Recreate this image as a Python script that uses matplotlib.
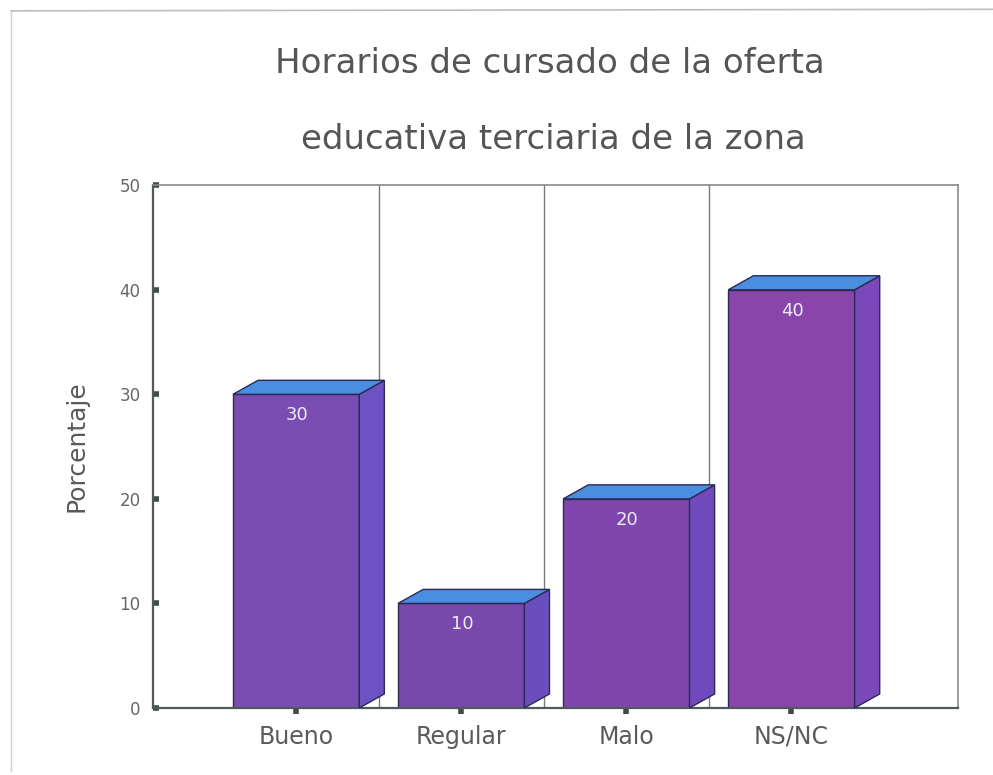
import numpy as np
import matplotlib.pyplot as plt
from matplotlib.patches import Polygon
from matplotlib.lines import Line2D

categorias = ['Bueno', 'Regular', 'Malo', 'NS/NC']
porcentajes = [30, 10, 20, 40]
yticks = [0, 10, 20, 30, 40, 50]

frente = ['#7a4db2', '#7849ad', '#7f47ad', '#8945ab']
lateral = ['#6c52c2', '#6a4ebe', '#704abd', '#7a48b9']
techo = '#4a8ee0'
borde = '#2b2a55'

ancho = 0.765
dx, dy = 0.152, 1.34


def dibujar(ax):
    x = np.arange(len(categorias))
    for b in [0.5, 1.5, 2.5]:
        ax.axvline(b, color='#7a7a7a', lw=1, zorder=0)

    barras = ax.bar(x, porcentajes, width=ancho, color=frente,
                    edgecolor=borde, linewidth=1, zorder=2)
    for i, rect in enumerate(barras):
        x0 = rect.get_x()
        x1 = x0 + rect.get_width()
        h = rect.get_height()
        top = Polygon([(x0, h), (x0 + dx, h + dy), (x1 + dx, h + dy), (x1, h)],
                      closed=True, facecolor=techo, edgecolor=borde, lw=1, zorder=3)
        side = Polygon([(x1, 0), (x1 + dx, dy), (x1 + dx, h + dy), (x1, h)],
                       closed=True, facecolor=lateral[i], edgecolor=borde, lw=1, zorder=3)
        ax.add_patch(side)
        ax.add_patch(top)
        ax.text(x[i] + 0.005, h - 2.0, str(porcentajes[i]), ha='center', va='center',
                color='#ececf4', fontsize=13, zorder=4)

    ax.set_xlim(-0.867, 4.01)
    ax.set_ylim(0, 50)
    ax.set_xticks(x)
    ax.set_xticklabels(categorias, fontsize=17, color='#5a5a5a')
    ax.set_yticks(yticks)
    ax.set_yticklabels([str(v) for v in yticks], fontsize=12, color='#666666')
    ax.tick_params(axis='y', length=4, width=4, color='#404a4a', direction='in', pad=9)
    ax.tick_params(axis='x', length=4, width=4, color='#404a4a', direction='out', pad=8)
    ax.set_ylabel('Porcentaje', fontsize=18, color='#5a5a5a', labelpad=22)

    for s in ['left', 'bottom']:
        ax.spines[s].set_color('#505a5a')
        ax.spines[s].set_linewidth(1.6)
    for s in ['top', 'right']:
        ax.spines[s].set_color('#8a8a8a')
        ax.spines[s].set_linewidth(1.2)


fig = plt.figure(figsize=(9.93, 7.75), dpi=100)
ax = fig.add_axes([0.154, 0.0865, 0.811, 0.6745])
dibujar(ax)

fig.text(0.554, 0.918, 'Horarios de cursado de la oferta', ha='center', va='center',
         fontsize=24.5, color='#555555')
fig.text(0.557, 0.820, 'educativa terciaria de la zona', ha='center', va='center',
         fontsize=24.5, color='#555555')

# borde de la hoja escaneada
fig.add_artist(Line2D([0.011, 1.0], [0.986, 0.988], color='#bdbdbd', lw=1.2,
                      transform=fig.transFigure))
fig.add_artist(Line2D([0.011, 0.011], [0.986, 0.005], color='#cfcfcf', lw=1.0,
                      transform=fig.transFigure))

fig.savefig('out.png', dpi=100)
